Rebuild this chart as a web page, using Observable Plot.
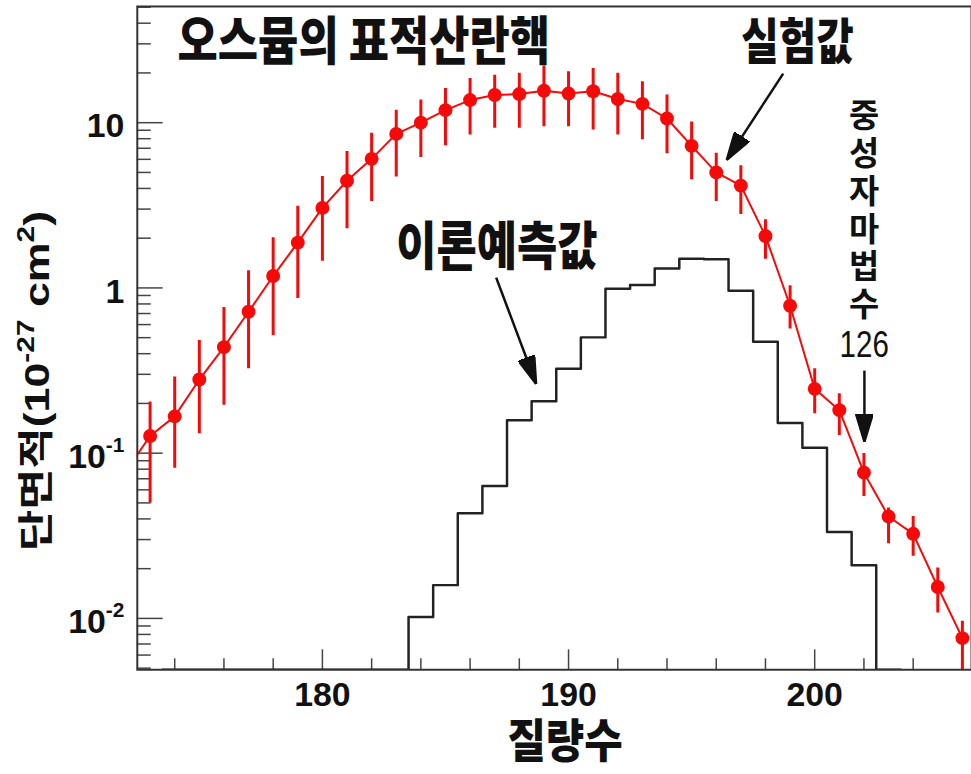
<!DOCTYPE html>
<html><head><meta charset="utf-8">
<script src="https://cdn.jsdelivr.net/npm/d3@7"></script>
<script src="https://cdn.jsdelivr.net/npm/@observablehq/plot@0.6"></script>
<style>
html,body{margin:0;padding:0;background:#fff;overflow:hidden;}
#chart svg{display:block;}
</style></head><body><div id="chart"></div>
<script>
// ---- data ----
const massNumbers = [172,173,174,175,176,177,178,179,180,181,182,183,184,185,186,187,188,189,190,191,192,193,194,195,196,197,198,199,200,201,202,203,204,205,206];
const crossSection = [0.077,0.127,0.167,0.279,0.438,0.717,1.18,1.88,3.05,4.45,6.04,8.55,10.0,11.9,13.7,14.7,14.9,15.6,15.0,15.5,13.9,13.0,10.6,7.24,5.0,4.16,2.06,0.78,0.245,0.182,0.0762,0.0414,0.0325,0.0155,0.0076];
const errLow  = [0.03,0.050,0.081,0.131,0.195,0.324,0.514,0.863,1.45,2.28,3.34,4.69,6.15,7.24,8.43,9.25,9.25,9.46,9.46,9.03,8.43,7.87,6.48,4.52,3.34,2.78,1.49,0.564,0.173,0.128,0.0546,0.0283,0.0238,0.0108,0.004];
const errHigh = [0.125,0.204,0.289,0.480,0.762,1.27,2.01,3.12,4.73,6.69,8.63,11.9,13.7,16.1,18.5,19.4,19.9,22.0,20.3,21.3,19.9,17.7,14.7,10.1,6.54,5.49,2.59,1.03,0.324,0.229,0.0996,0.0465,0.0414,0.0202,0.0096];
const theoryBins   = [174,175,176,177,178,179,180,181,182,183,184,185,186,187,188,189,190,191,192,193,194,195,196,197,198,199,200,201,202,203];
const theoryValues = [0,0,0,0,0,0,0,0,0,0,0.0102,0.0159,0.0433,0.0633,0.158,0.206,0.324,0.502,0.99,1.04,1.31,1.50,1.49,0.96,0.473,0.152,0.108,0.0333,0.021,0];
const xMajorTicks = [180,190,200];
const xMinorTicks = [174,176,178,182,184,186,188,192,194,196,198,202,204,206];
const yTickValues = [0.01,0.1,1,10];
const yTickLabels = ["10^{-2}","10^{-1}","1","10"];
const titleText = "오스뮴의 표적산란핵";
const expLabel = "실험값";
const theoryLabel = "이론예측값";
const magicLabel = "중\n성\n자\n마\n법\n수";
const magicNumber = "126";
const xTitle = "질량수";
const yTitle = "단면적(10^{-27} cm^{2})";

// ---- layout ----
const W = 976, H = 774;
const mL = 137.5, mR = 0, mT = 6, mB = 101.3;
const innerW = W - mL - mR, innerH = H - mT - mB;
const xDomain = [172.48, 206.37];
const yDomain = [0.00489, 50.5];
const red = "#f50a0a";
const axisColor = "#444";
const kr = "'Noto Sans CJK KR','Liberation Sans',sans-serif";
const lat = "'Liberation Sans','Noto Sans CJK KR',sans-serif";

const exp = massNumbers.map((m, i) => ({m, v: crossSection[i], lo: errLow[i], hi: errHigh[i]}));
const theoryStep = theoryBins.map((b, i) => ({edge: b - 0.5, v: theoryValues[i]}));
theoryStep.push({edge: theoryBins[theoryBins.length - 1] + 0.5, v: 0});
const yMinor = d3.scaleLog().domain(yDomain).ticks().filter(t => !yTickValues.some(v => Math.abs(v - t) / v < 1e-9));

const annotations = [
  {label: expLabel, x: 199.3, y: 30.6, size: 41},
  {label: theoryLabel, x: 187.09, y: 1.76, size: 44}
];
const arrows = [
  {x1: 198.72, y1: 19.8, x2: 196.43, y2: 5.96},
  {x1: 187.06, y1: 1.155, x2: 188.68, y2: 0.263},
  {x1: 202.02, y1: 0.316, x2: 202.02, y2: 0.1176}
];

function triHead(color) {
  const ns = "http://www.w3.org/2000/svg";
  const m = document.createElementNS(ns, "marker");
  m.setAttribute("viewBox", "-28 -9 29 18");
  m.setAttribute("markerUnits", "userSpaceOnUse");
  m.setAttribute("markerWidth", "29");
  m.setAttribute("markerHeight", "18");
  m.setAttribute("refX", "0");
  m.setAttribute("refY", "0");
  m.setAttribute("orient", "auto");
  const p = document.createElementNS(ns, "path");
  p.setAttribute("d", "M0,0L-28,-8.5L-28,8.5Z");
  p.setAttribute("fill", "#111");
  m.appendChild(p);
  return m;
}

function build(marker) {
  return Plot.plot({
    width: W, height: H,
    marginLeft: mL, marginRight: mR, marginTop: mT, marginBottom: mB,
    style: {fontFamily: lat, background: "#fff", color: "#111"},
    x: {domain: xDomain, axis: null},
    y: {type: "log", domain: yDomain, axis: null, clamp: true},
    marks: [
      Plot.tickX(xMinorTicks, {x: d => d, insetTop: innerH - 11, stroke: axisColor, strokeWidth: 1.5}),
      Plot.tickX(xMajorTicks, {x: d => d, insetTop: innerH - 20, stroke: axisColor, strokeWidth: 1.5}),
      Plot.tickY(yMinor, {y: d => d, insetRight: innerW - 14, stroke: axisColor, strokeWidth: 1.5}),
      Plot.tickY(yTickValues, {y: d => d, insetRight: innerW - 26, stroke: axisColor, strokeWidth: 1.5}),
      Plot.line(theoryStep, {x: "edge", y: "v", curve: "step-after", stroke: "#222", strokeWidth: 2.5, clip: true}),
      Plot.ruleX(exp, {x: "m", y1: "lo", y2: "hi", stroke: red, strokeWidth: 3, clip: true}),
      Plot.line(exp, {x: "m", y: "v", stroke: red, strokeWidth: 2, clip: true}),
      Plot.dot(exp, {x: "m", y: "v", r: 7, fill: red, clip: true}),
      Plot.frame({stroke: "#333", strokeWidth: 2}),
      // tick labels
      Plot.text(xMajorTicks, {x: d => d, frameAnchor: "bottom", dy: 26, text: d => String(d), fontSize: 34, fontWeight: "bold", textAnchor: "middle", lineAnchor: "middle", fill: "#111"}),
      Plot.text(yTickValues, {y: d => d, frameAnchor: "left", dx: -13, dy: 4, text: (d, i) => yTickLabels[i], fontSize: 34, fontWeight: "bold", textAnchor: "end", lineAnchor: "middle", fill: "#111"}),
      // axis titles
      Plot.text([xTitle], {frameAnchor: "bottom", dx: 10.75, dy: 72, text: d => d, fontSize: 42, fontWeight: 900, fontFamily: kr, textAnchor: "middle", lineAnchor: "middle", fill: "#111"}),
      Plot.text([yTitle], {frameAnchor: "left", dx: -100, dy: 43, rotate: -90, text: d => d, fontSize: 36, fontWeight: "bold", textAnchor: "middle", lineAnchor: "middle", fill: "#111"}),
      // chart title
      Plot.text([titleText], {frameAnchor: "top-left", dx: 40.5, dy: 36, text: d => d, fontSize: 44, fontWeight: 900, fontFamily: kr, textAnchor: "start", lineAnchor: "middle", fill: "#111"}),
      // annotations
      ...annotations.map(a => Plot.text([a], {x: "x", y: "y", text: "label", fontSize: a.size, fontWeight: 900, fontFamily: kr, textAnchor: "middle", lineAnchor: "middle", fill: "#111"})),
      Plot.text([magicLabel], {x: () => 202.01, y: () => 2.98, text: d => d, fontSize: 33, lineHeight: 38 / 33, fontWeight: "bold", fontFamily: kr, textAnchor: "middle", lineAnchor: "middle", fill: "#111"}),
      Plot.text([magicNumber], {x: () => 202.01, y: () => 0.452, text: d => d, fontSize: 38, fontWeight: "normal", textAnchor: "middle", lineAnchor: "middle", fill: "#111"}),
      Plot.link(arrows, {x1: "x1", y1: "y1", x2: "x2", y2: "y2", stroke: "#111", strokeWidth: 2.5, markerEnd: marker})
    ]
  });
}

let chart;
try { chart = build(triHead); } catch (e) { console.error(e); chart = build("arrow"); }
document.getElementById("chart").appendChild(chart);

const ns = "http://www.w3.org/2000/svg";
const allTexts = () => Array.from(chart.querySelectorAll("text"));
function supify(textEl, supSize, shift) {
  const s = textEl.textContent;
  const re = /\^\{([^}]*)\}/g;
  let last = 0, m; const parts = [];
  while ((m = re.exec(s))) {
    if (m.index > last) parts.push([s.slice(last, m.index), false]);
    parts.push([m[1], true]);
    last = re.lastIndex;
  }
  if (last < s.length) parts.push([s.slice(last), false]);
  if (!parts.some(p => p[1])) return;
  textEl.textContent = "";
  let raised = false;
  for (const [str, sup] of parts) {
    const t = document.createElementNS(ns, "tspan");
    t.textContent = str;
    if (sup) { t.setAttribute("font-size", supSize); if (!raised) t.setAttribute("dy", -shift); raised = true; }
    else { if (raised) t.setAttribute("dy", shift); raised = false; }
    textEl.appendChild(t);
  }
}
// scale a text about the centre of its own box, keeping Plot's placement
function stretch(content, sx, sy) {
  allTexts().filter(t => t.textContent === content).forEach(t => {
    const b = t.getBBox();
    const cx = b.x + b.width / 2, cy = b.y + b.height / 2;
    const tr = t.getAttribute("transform") || "";
    t.setAttribute("transform", `${tr} translate(${cx},${cy}) scale(${sx},${sy}) translate(${-cx},${-cy})`.trim());
  });
}
allTexts().forEach(t => {
  if (t.textContent === yTitle) supify(t, 24, 15);
  else if (yTickLabels.includes(t.textContent)) supify(t, 21, 16);
});
const yTitleShown = yTitle.replace(/\^\{([^}]*)\}/g, "$1");
stretch(titleText, 1, 1.2);
stretch(expLabel, 1, 1.2);
stretch(theoryLabel, 1, 1.2);
stretch(xTitle, 1, 1.1);
stretch(yTitleShown, 1.25, 1);
stretch(magicNumber, 0.78, 1);
</script>
</body></html>
